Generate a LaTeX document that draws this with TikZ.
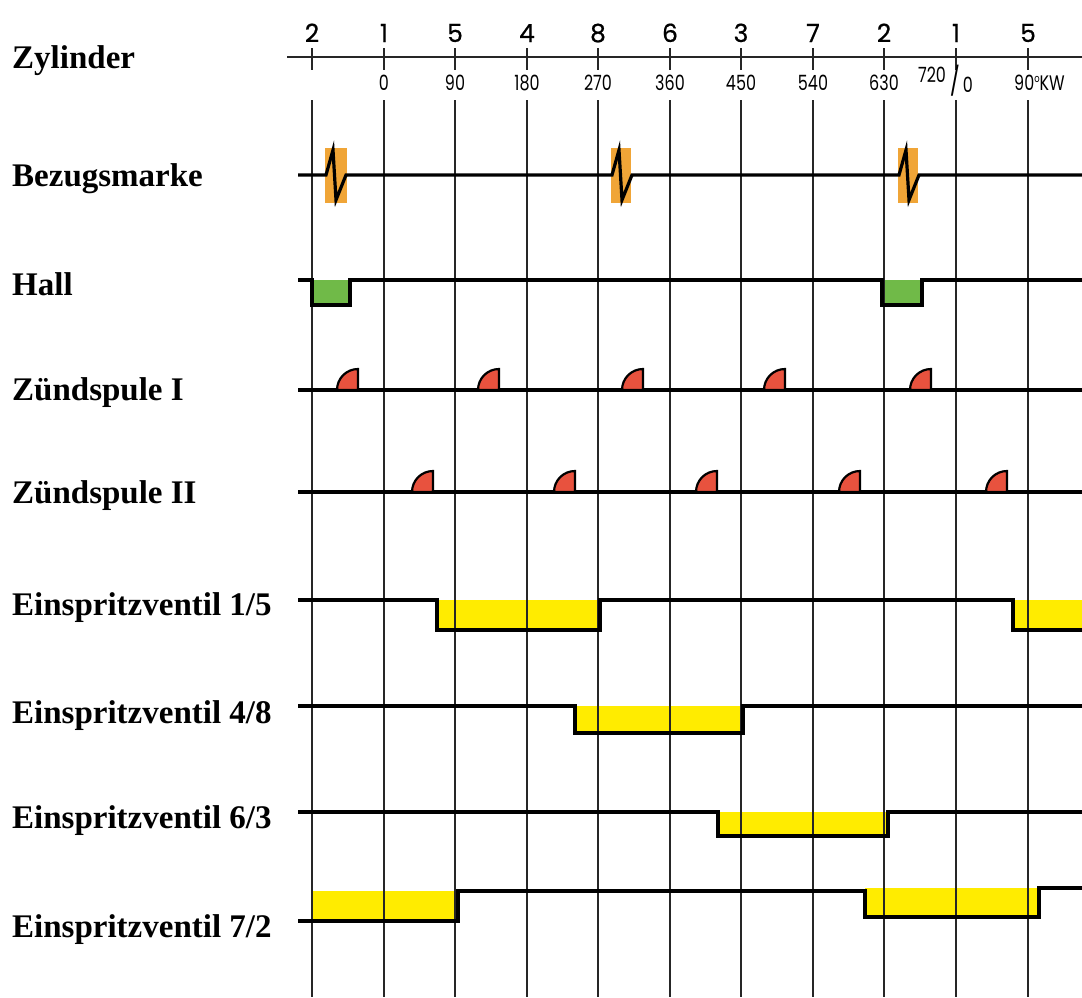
\documentclass[tikz,border=0pt]{standalone}
\usepackage{fontspec}
\setmainfont{Liberation Serif}
\newfontfamily\axisfont{Poppins}
\newfontfamily\degfont[FakeStretch=0.76]{Poppins}
\definecolor{markorange}{RGB}{240,165,55}
\definecolor{hallgreen}{RGB}{112,186,72}
\definecolor{sparkred}{RGB}{232,82,62}
\definecolor{injyellow}{RGB}{255,236,0}

\begin{document}
\begin{tikzpicture}[x=1pt, y=-1pt]
    % Define styles
    \tikzstyle{rowlabel} = [anchor=base west, inner sep=0pt, font=\fontsize{33}{36}\selectfont\bfseries]
    \tikzstyle{cylnum} = [anchor=base, inner sep=0pt, font=\axisfont\fontsize{25}{28}\selectfont\addfontfeature{FakeBold=0.6}]
    \tikzstyle{degnum} = [anchor=base, inner sep=0pt, font=\degfont\fontsize{21}{23}\selectfont]
    \tikzstyle{gridline} = [line width=2.2pt, black!85]
    \tikzstyle{signal} = [line width=3.2pt, black]
    \tikzstyle{hump} = [draw=black, line width=2.2pt, fill=sparkred]

    \useasboundingbox (0,0) rectangle (1082,997);

    % Row labels
    \node[rowlabel] (zylinder) at (12,68) {Zylinder};
    \node[rowlabel] (bezug) at (12,186) {Bezugsmarke};
    \node[rowlabel] (hall) at (12,295) {Hall};
    \node[rowlabel] (spule1) at (12,400) {Zündspule I};
    \node[rowlabel] (spule2) at (12,503) {Zündspule II};
    \node[rowlabel] (ventil15) at (12,615) {Einspritzventil 1/5};
    \node[rowlabel] (ventil48) at (12,723) {Einspritzventil 4/8};
    \node[rowlabel] (ventil63) at (12,828) {Einspritzventil 6/3};
    \node[rowlabel] (ventil72) at (12,937) {Einspritzventil 7/2};

    % Cylinder order
    \node[cylnum] (cyl2a) at (312,42) {2};
    \node[cylnum] (cyl1a) at (384,42) {1};
    \node[cylnum] (cyl5a) at (455,42) {5};
    \node[cylnum] (cyl4) at (527,42) {4};
    \node[cylnum] (cyl8) at (598,42) {8};
    \node[cylnum] (cyl6) at (670,42) {6};
    \node[cylnum] (cyl3) at (741,42) {3};
    \node[cylnum] (cyl7) at (813,42) {7};
    \node[cylnum] (cyl2b) at (884,42) {2};
    \node[cylnum] (cyl1b) at (956,42) {1};
    \node[cylnum] (cyl5b) at (1028,42) {5};

    % Crank angle scale
    \draw[gridline] (287,57) -- (1082,57);
    \draw[gridline] (312,48) -- (312,70) (384,48) -- (384,70) (455,48) -- (455,70)
        (527,48) -- (527,70) (598,48) -- (598,70) (670,48) -- (670,70) (741,48) -- (741,70)
        (813,48) -- (813,70) (884,48) -- (884,70) (956,48) -- (956,70) (1028,48) -- (1028,70);
    \node[degnum] (deg0) at (384,90) {0};
    \node[degnum] (deg90) at (455,90) {90};
    \node[degnum] (deg180) at (527,90) {180};
    \node[degnum] (deg270) at (598,90) {270};
    \node[degnum] (deg360) at (670,90) {360};
    \node[degnum] (deg450) at (741,90) {450};
    \node[degnum] (deg540) at (813,90) {540};
    \node[degnum] (deg630) at (884,90) {630};
    \node[degnum] (deg720) at (932,82) {720};
    \node[degnum, font=\degfont\fontsize{28}{30}\selectfont] (degslash) at (955,91) {/};
    \node[degnum] (deg0b) at (968,92) {0};
    \node[degnum, anchor=base west] (deg90b) at (1014,90) {90\raisebox{8pt}{\fontsize{11}{11}\selectfont o}KW};

    % Injection windows (fill first)
    \fill[injyellow] (437,600) rectangle (600,630);
    \fill[injyellow] (1013,600) rectangle (1082,630);
    \fill[injyellow] (575,706) rectangle (743,733);
    \fill[injyellow] (718,812) rectangle (888,836);
    \fill[injyellow] (313,891) rectangle (458,921);
    \fill[injyellow] (865,888) rectangle (1039,917);

    % Reference marks and Hall windows
    \fill[markorange] (325,148) rectangle (347,203);
    \fill[markorange] (611,148) rectangle (631,203);
    \fill[markorange] (898,148) rectangle (918,203);
    \fill[hallgreen] (312,280) rectangle (350,305);
    \fill[hallgreen] (882,280) rectangle (922,305);

    % Vertical grid
    \draw[gridline] (312,100) -- (312,997) (384,100) -- (384,997) (455,100) -- (455,997)
        (527,100) -- (527,997) (598,100) -- (598,997) (670,100) -- (670,997) (741,100) -- (741,997)
        (813,100) -- (813,997) (884,100) -- (884,997) (956,100) -- (956,997) (1028,100) -- (1028,997);

    % Bezugsmarke
    \draw[signal] (298,175) -- (326,175) -- (333,150) -- (336,200) -- (346,175)
        -- (612,175) -- (619,150) -- (622,200) -- (632,175)
        -- (899,175) -- (906,150) -- (909,200) -- (919,175) -- (1082,175);

    % Hall
    \draw[signal] (298,280) -- (312,280) -- (312,305) -- (350,305) -- (350,280)
        -- (882,280) -- (882,305) -- (922,305) -- (922,280) -- (1082,280);

    % Zuendspule I
    \draw[signal] (298,390) -- (1082,390);
    \draw[hump] (337,390) arc[start angle=180, end angle=270, radius=21] -- (358,390) -- cycle;
    \draw[hump] (478,390) arc[start angle=180, end angle=270, radius=21] -- (499,390) -- cycle;
    \draw[hump] (622,390) arc[start angle=180, end angle=270, radius=21] -- (643,390) -- cycle;
    \draw[hump] (764,390) arc[start angle=180, end angle=270, radius=21] -- (785,390) -- cycle;
    \draw[hump] (910,390) arc[start angle=180, end angle=270, radius=21] -- (931,390) -- cycle;

    % Zuendspule II
    \draw[signal] (298,492) -- (1082,492);
    \draw[hump] (412,492) arc[start angle=180, end angle=270, radius=21] -- (433,492) -- cycle;
    \draw[hump] (554,492) arc[start angle=180, end angle=270, radius=21] -- (575,492) -- cycle;
    \draw[hump] (696,492) arc[start angle=180, end angle=270, radius=21] -- (717,492) -- cycle;
    \draw[hump] (839,492) arc[start angle=180, end angle=270, radius=21] -- (860,492) -- cycle;
    \draw[hump] (986,492) arc[start angle=180, end angle=270, radius=21] -- (1007,492) -- cycle;

    % Einspritzventile
    \draw[signal] (298,600) -- (437,600) -- (437,630) -- (600,630) -- (600,600)
        -- (1013,600) -- (1013,630) -- (1082,630);
    \draw[signal] (298,706) -- (575,706) -- (575,733) -- (743,733) -- (743,706) -- (1082,706);
    \draw[signal] (298,812) -- (718,812) -- (718,836) -- (888,836) -- (888,812) -- (1082,812);
    \draw[signal] (298,921) -- (458,921) -- (458,891) -- (865,891) -- (865,917)
        -- (1039,917) -- (1039,888) -- (1082,888);
\end{tikzpicture}
\end{document}
